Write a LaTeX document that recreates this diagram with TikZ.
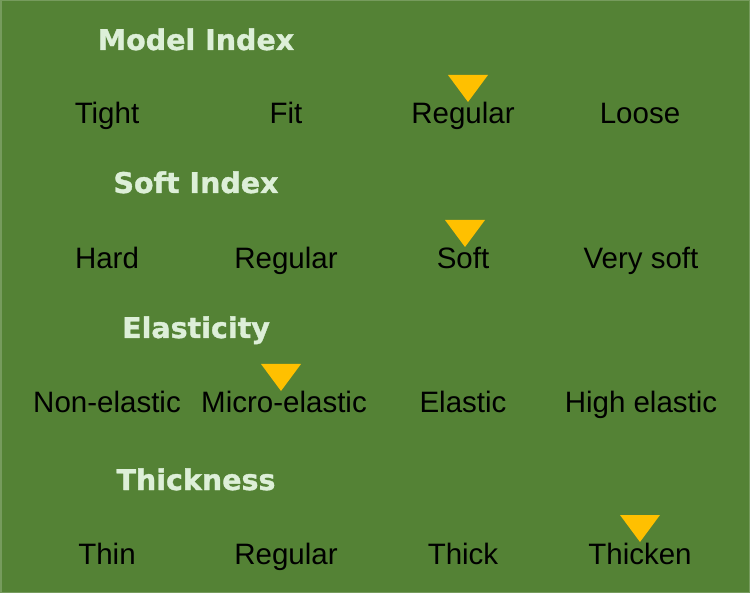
\documentclass[tikz,border=0pt]{standalone}
\usepackage{fontspec}
\setmainfont{Liberation Sans}
\newfontfamily\headfont[BoldFeatures={FakeBold=1.2}]{DejaVu Sans}
\usepackage{tikz}
\usetikzlibrary{calc}
\definecolor{bggreen}{HTML}{548235}
\definecolor{headgreen}{HTML}{DDEFD8}
\definecolor{markgold}{HTML}{FFC000}
\tikzset{
  heading/.style={font=\headfont\fontsize{28.5}{34}\selectfont\bfseries,text=headgreen,inner sep=0,anchor=base},
  item/.style={font=\fontsize{29.5}{34}\selectfont,text=black,inner sep=0,anchor=base},
}
% triangle above an item: node, x shift
\newcommand{\pointer}[2]{\fill[markgold]($(#1.base)+(#2,-22)$)--++(-20,-27)--++(40,0)--cycle;}
\begin{document}
\begin{tikzpicture}[x=1pt,y=-1pt]
%background
\fill[bggreen](0,0)rectangle(750,593);
\draw[line width=1.5,draw=bggreen!80!white](0.75,0.75)rectangle(749.25,592.25);
\useasboundingbox(0,0)rectangle(750,593);
%model index
\node[heading](h1)at(196,50){Model Index};
\node[item](a1)at(107,124){Tight};
\node[item](a2)at(286,124){Fit};
\node[item](a3)at(463,124){Regular};
\node[item](a4)at(640,124){Loose};
\pointer{a3}{5}
%soft index
\node[heading](h2)at(196,193){Soft Index};
\node[item](b1)at(107,269){Hard};
\node[item](b2)at(286,269){Regular};
\node[item](b3)at(463,269){Soft};
\node[item](b4)at(641,269){Very soft};
\pointer{b3}{2}
%elasticity
\node[heading](h3)at(196,338){Elasticity};
\node[item](c1)at(107,413){Non-elastic};
\node[item](c2)at(284,413){Micro-elastic};
\node[item](c3)at(463,413){Elastic};
\node[item](c4)at(641,413){High elastic};
\pointer{c2}{-3}
%thickness
\node[heading](h4)at(196,490){Thickness};
\node[item](d1)at(107,564){Thin};
\node[item](d2)at(286,564){Regular};
\node[item](d3)at(463,564){Thick};
\node[item](d4)at(640,564){Thicken};
\pointer{d4}{0}
\end{tikzpicture}
\end{document}
